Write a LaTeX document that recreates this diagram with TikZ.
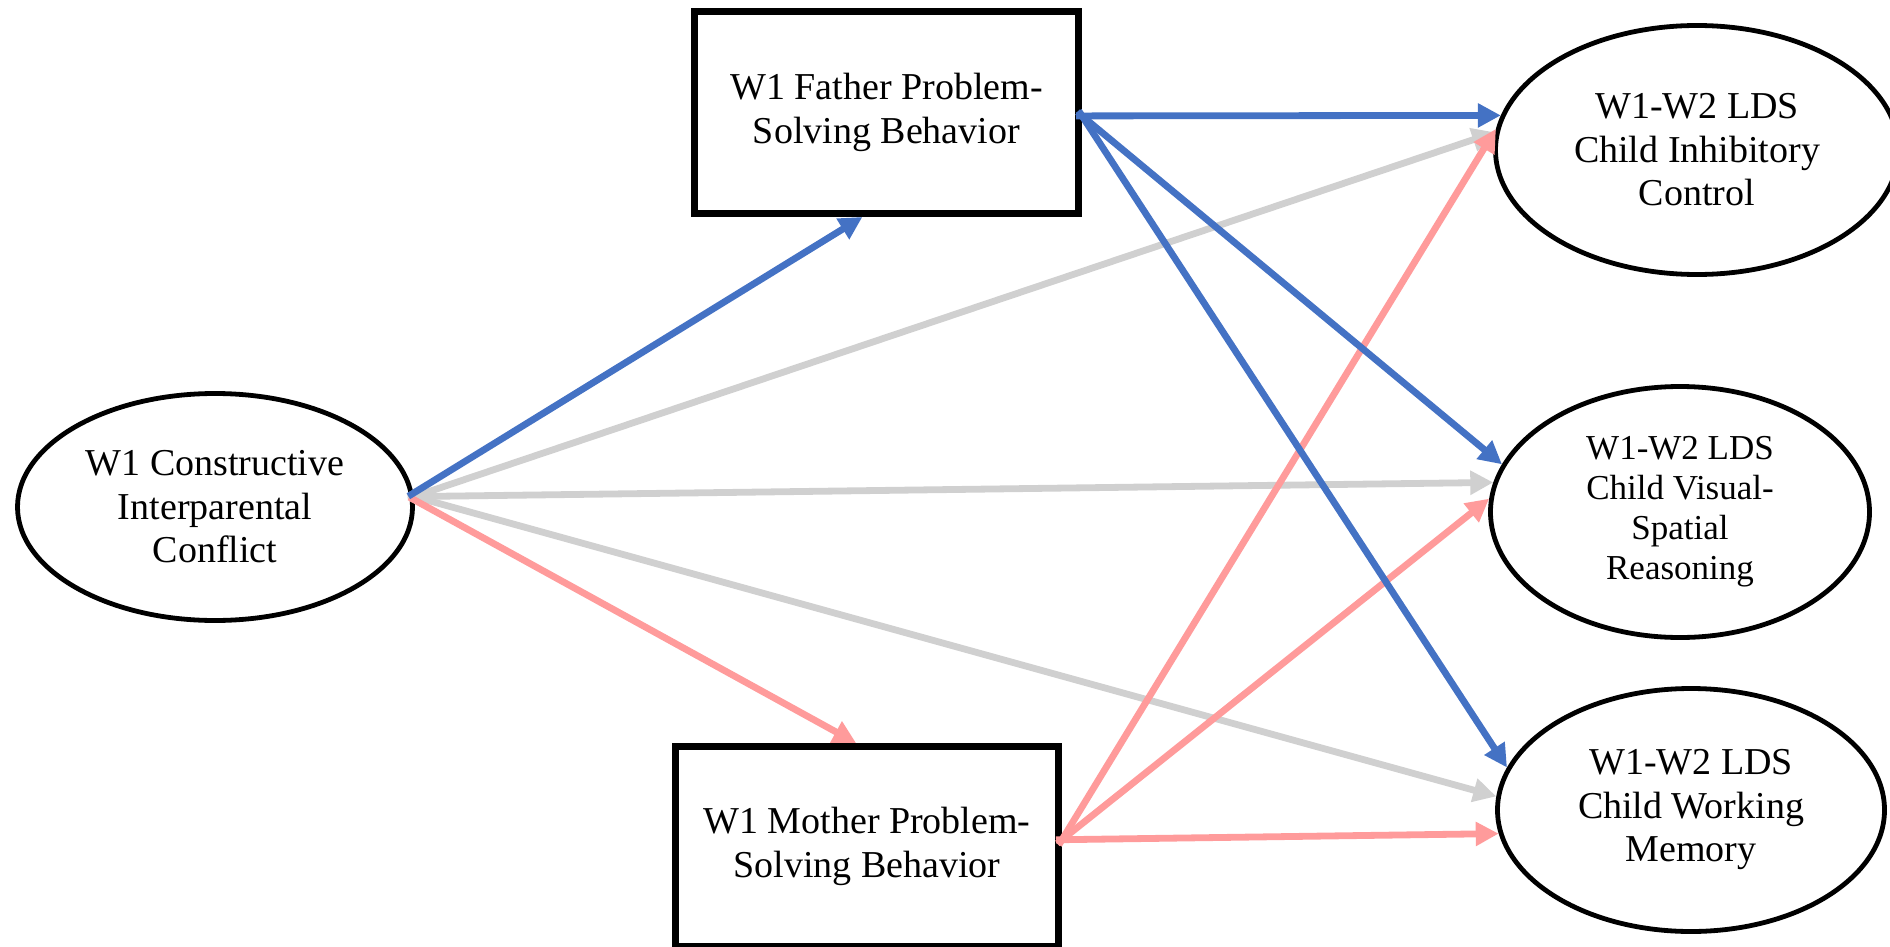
\documentclass[tikz,border=0pt]{standalone}
\usepackage{fontspec}
\setmainfont{Liberation Serif}
\usetikzlibrary{arrows.meta,shapes.geometric}
\definecolor{pblue}{HTML}{4472C4}
\definecolor{ppink}{HTML}{FF9B9B}
\definecolor{pgray}{HTML}{D0D0D0}
\begin{document}
\begin{tikzpicture}[x=0.5pt,y=-0.5pt,
  txt/.style={font=\fontsize{19pt}{21.75pt}\selectfont, align=center, inner sep=0pt},
  boxnode/.style={txt, draw, rectangle, line width=3.5pt, fill=white},
  ovalnode/.style={txt, draw, ellipse, line width=2.4pt, fill=white},
  link/.style={line width=3.4pt, -{Triangle[length=11.5pt,width=11.5pt]}, shorten <=-3pt},
  ]
\useasboundingbox (0,0) rectangle (1890,947);
\node[ovalnode, minimum width=197.5pt, minimum height=113.5pt] (cic) at (215,507) {W1 Constructive\\Interparental\\Conflict};
\node[boxnode, minimum width=192pt, minimum height=101pt] (fa) at (886.5,112.5) {W1 Father Problem-\\Solving Behavior};
\node[boxnode, minimum width=191.5pt, minimum height=100pt] (mo) at (867,846.5) {W1 Mother Problem-\\Solving Behavior};
\node[ovalnode, minimum width=201.5pt, minimum height=124.5pt] (inh) at (1697,150) {W1-W2 LDS\\Child Inhibitory\\Control};
\node[ovalnode, minimum width=189.5pt, minimum height=125.5pt, font=\fontsize{17.5pt}{20pt}\selectfont] (vis) at (1680,512) {W1-W2 LDS\\Child Visual-\\Spatial\\Reasoning};
\node[ovalnode, minimum width=193.5pt, minimum height=121.5pt] (wm) at (1691,810) {W1-W2 LDS\\Child Working\\Memory};
% gray paths
\draw[link, pgray] (cic.3) -- (inh.175);
\draw[link, pgray] (cic.3) -- (vis.171);
\draw[link, pgray] (cic.3) -- (wm.176);
% pink paths
\draw[link, ppink] (cic.2) -- (mo.96);
\draw[link, ppink] (mo.2) -- (inh.174);
\draw[link, ppink] (mo.2) -- (vis.176);
\draw[link, ppink] (mo.2) -- (wm.187);
% blue paths
\draw[link, pblue] (cic.4) -- (fa.257);
\draw[link, pblue] (fa.359) -- (inh.170);
\draw[link, pblue] (fa.359) -- (vis.165);
\draw[link, pblue] (fa.359) -- (wm.167);
\end{tikzpicture}
\end{document}
